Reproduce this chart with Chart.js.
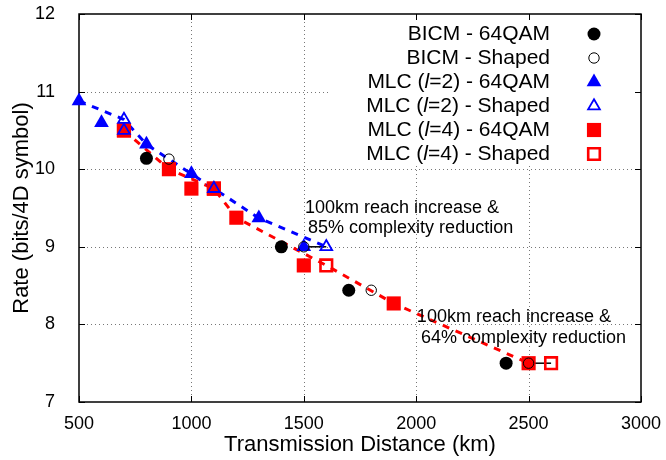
<!DOCTYPE html>
<html>
<head>
<meta charset="utf-8">
<script src="https://cdn.jsdelivr.net/npm/chart.js@4.4.1/dist/chart.umd.min.js"></script>
<style>
  html, body { margin: 0; padding: 0; background: #fff; }
</style>
</head>
<body>
<canvas id="rateChart" width="666" height="460"></canvas>
<script>
// values: distance (km) / rate (bits/4D symbol)
const bicmQamX = [800, 1400, 1700, 2400];
const bicmQamY = [10.14, 9.0, 8.44, 7.5];
const bicmShapedX = [900, 1500, 1800, 2500];
const bicmShapedY = [10.13, 9.0, 8.44, 7.5];
const mlc2QamX = [500, 600, 800, 1000, 1300, 1500];
const mlc2QamY = [10.88, 10.6, 10.32, 9.94, 9.37, 9.0];
const mlc2ShapedX = [700, 700, 1100, 1600];
const mlc2ShapedY = [10.64, 10.5, 9.75, 9.0];
const mlc4QamX = [700, 900, 1000, 1100, 1200, 1500, 1900, 2500];
const mlc4QamY = [10.5, 10.0, 9.75, 9.75, 9.375, 8.76, 8.27, 7.5];
const mlc4ShapedX = [700, 1100, 1600, 2600];
const mlc4ShapedY = [10.5, 9.75, 8.76, 7.5];

// dashed guide lines
const mlc2LineX = [500, 700, 800, 1000, 1100, 1300, 1600];
const mlc2LineY = [10.88, 10.64, 10.32, 9.94, 9.75, 9.37, 9.0];
const mlc4LineX = [700, 900, 1100, 1200, 1600, 1900, 2500];
const mlc4LineY = [10.5, 10.0, 9.75, 9.375, 8.76, 8.27, 7.5];

// arrows 1500->1600 and 2500->2600
const arrow1X = [1500, 1600];
const arrow1Y = [9.0, 9.0];
const arrow2X = [2500, 2600];
const arrow2Y = [7.5, 7.5];

const xTicks = [500, 1000, 1500, 2000, 2500, 3000];
const yTicks = [7, 8, 9, 10, 11, 12];

const notes = [
    { text: '100km reach increase &', x: 1505, y: 9.5 },
    { text: '85% complexity reduction', x: 1519, y: 9.24 },
    { text: '100km reach increase &', x: 2003, y: 8.1 },
    { text: '64% complexity reduction', x: 2021, y: 7.82 }
];

const FONT = '"Liberation Sans", Arial, Helvetica, sans-serif';
Chart.defaults.font.family = FONT;
Chart.defaults.color = '#000';

const pts = (xs, ys) => xs.map((x, i) => ({ x, y: ys[i] }));

// grid, border, inward ticks, white key box
const framePlugin = {
    id: 'frame',
    beforeDatasetsDraw(chart) {
        const { ctx, chartArea: a, scales: { x, y } } = chart;
        ctx.save();
        ctx.strokeStyle = '#777';
        ctx.lineWidth = 1;
        ctx.setLineDash([1, 3]);
        xTicks.slice(1, -1).forEach(v => {
            const px = Math.round(x.getPixelForValue(v)) + 0.5;
            ctx.beginPath(); ctx.moveTo(px, a.top); ctx.lineTo(px, a.bottom); ctx.stroke();
        });
        yTicks.slice(1, -1).forEach(v => {
            const py = Math.round(y.getPixelForValue(v)) + 0.5;
            ctx.beginPath(); ctx.moveTo(a.left, py); ctx.lineTo(a.right, py); ctx.stroke();
        });
        ctx.setLineDash([]);
        // key box hides the grid behind it
        ctx.fillStyle = '#fff';
        ctx.fillRect(330, a.top, a.right - 330, 165 - a.top);
        // inward ticks
        ctx.strokeStyle = '#000';
        ctx.lineWidth = 1;
        const t = 6;
        xTicks.forEach(v => {
            const px = Math.round(x.getPixelForValue(v)) + 0.5;
            ctx.beginPath();
            ctx.moveTo(px, a.bottom); ctx.lineTo(px, a.bottom - t);
            ctx.moveTo(px, a.top); ctx.lineTo(px, a.top + t);
            ctx.stroke();
        });
        yTicks.forEach(v => {
            const py = Math.round(y.getPixelForValue(v)) + 0.5;
            ctx.beginPath();
            ctx.moveTo(a.left, py); ctx.lineTo(a.left + t, py);
            ctx.moveTo(a.right, py); ctx.lineTo(a.right - t, py);
            ctx.stroke();
        });
        ctx.lineWidth = 1.5;
        ctx.strokeRect(a.left, a.top, a.right - a.left, a.bottom - a.top);
        ctx.restore();
    },
    afterDatasetsDraw(chart) {
        const { ctx, scales: { x, y } } = chart;
        ctx.save();
        ctx.fillStyle = '#000';
        ctx.font = '18px ' + FONT;
        ctx.textAlign = 'left';
        ctx.textBaseline = 'middle';
        notes.forEach(n => ctx.fillText(n.text, x.getPixelForValue(n.x), y.getPixelForValue(n.y)));
        ctx.restore();
    }
};

// key: right aligned text, marker on the right, italic l
const keyPlugin = {
    id: 'key',
    afterDraw(chart) {
        const ctx = chart.ctx;
        const rows = chart.data.datasets.filter(d => d.inKey);
        const normal = '21px ' + FONT;
        const italic = 'italic 21px ' + FONT;
        ctx.save();
        ctx.textBaseline = 'middle';
        ctx.textAlign = 'left';
        rows.forEach((ds, i) => {
            const yy = 34 + i * 24;
            const m = ds.label.match(/^(.*\()l(=.*)$/);
            const parts = m ? [[m[1], normal], ['l', italic], [m[2], normal]] : [[ds.label, normal]];
            let w = 0;
            parts.forEach(p => { ctx.font = p[1]; w += ctx.measureText(p[0]).width; });
            let xx = 550 - w;
            ctx.fillStyle = '#000';
            parts.forEach(p => {
                ctx.font = p[1];
                ctx.fillText(p[0], xx, yy);
                xx += ctx.measureText(p[0]).width;
            });
            ctx.fillStyle = ds.backgroundColor;
            ctx.strokeStyle = ds.borderColor;
            ctx.lineWidth = ds.borderWidth;
            Chart.helpers.drawPoint(ctx, {
                pointStyle: ds.pointStyle, radius: ds.pointRadius,
                borderWidth: ds.borderWidth, rotation: 0
            }, 594, yy);
        });
        ctx.restore();
    }
};

const marker = (label, xs, ys, style, color, open, radius, bw, order) => ({
    label, inKey: true, data: pts(xs, ys),
    pointStyle: style, pointRadius: radius,
    backgroundColor: open ? 'rgba(0,0,0,0)' : color,
    borderColor: color, borderWidth: open ? bw : 0,
    showLine: false, order, clip: false
});

const guide = (xs, ys, color, width, dash, order) => ({
    label: '', inKey: false, data: pts(xs, ys),
    showLine: true, borderColor: color, borderWidth: width, borderDash: dash,
    pointRadius: 0, fill: false, order, clip: false
});

new Chart(document.getElementById('rateChart'), {
    type: 'scatter',
    data: {
        datasets: [
            marker('BICM - 64QAM', bicmQamX, bicmQamY, 'circle', '#000', false, 6.5, 0, 3),
            marker('BICM - Shaped', bicmShapedX, bicmShapedY, 'circle', '#000', true, 5.2, 1, 2),
            marker('MLC (l=2) - 64QAM', mlc2QamX, mlc2QamY, 'triangle', '#0000ff', false, 8.5, 0, 5),
            marker('MLC (l=2) - Shaped', mlc2ShapedX, mlc2ShapedY, 'triangle', '#0000ff', true, 6.8, 1.8, 4),
            marker('MLC (l=4) - 64QAM', mlc4QamX, mlc4QamY, 'rect', '#ff0000', false, 10, 0, 7),
            marker('MLC (l=4) - Shaped', mlc4ShapedX, mlc4ShapedY, 'rect', '#ff0000', true, 8.2, 2.6, 8),
            guide(mlc2LineX, mlc2LineY, '#0000ff', 3, [7, 7], 10),
            guide(mlc4LineX, mlc4LineY, '#ff0000', 3, [7, 7], 10),
            guide(arrow1X, arrow1Y, '#000', 1.5, [], 9),
            guide(arrow2X, arrow2Y, '#000', 1.5, [], 9)
        ]
    },
    options: {
        responsive: false,
        animation: false,
        layout: { padding: { top: 14, right: 25, left: 0, bottom: 0 } },
        plugins: { legend: { display: false }, tooltip: { enabled: false } },
        scales: {
            x: {
                type: 'linear', min: 500, max: 3000,
                afterBuildTicks: s => { s.ticks = xTicks.map(v => ({ value: v })); },
                afterFit: s => { s.height = 58; s.paddingLeft = 0; s.paddingRight = 0; },
                grid: { display: false }, border: { display: false },
                ticks: { font: { size: 18 }, color: '#000', padding: 3, maxRotation: 0, autoSkip: false, callback: v => String(v) },
                title: { display: true, text: 'Transmission Distance (km)', font: { size: 22 }, color: '#000', padding: { top: 0, bottom: 2 } }
            },
            y: {
                type: 'linear', min: 7, max: 12,
                afterBuildTicks: s => { s.ticks = yTicks.map(v => ({ value: v })); },
                afterFit: s => { s.width = 79; s.paddingTop = 0; s.paddingBottom = 0; },
                grid: { display: false }, border: { display: false },
                ticks: { font: { size: 18 }, color: '#000', padding: 16, autoSkip: false, callback: v => String(v) },
                title: { display: true, text: 'Rate (bits/4D symbol)', font: { size: 22 }, color: '#000', padding: { top: 9, bottom: 0 } }
            }
        }
    },
    plugins: [framePlugin, keyPlugin]
});
</script>
</body>
</html>
